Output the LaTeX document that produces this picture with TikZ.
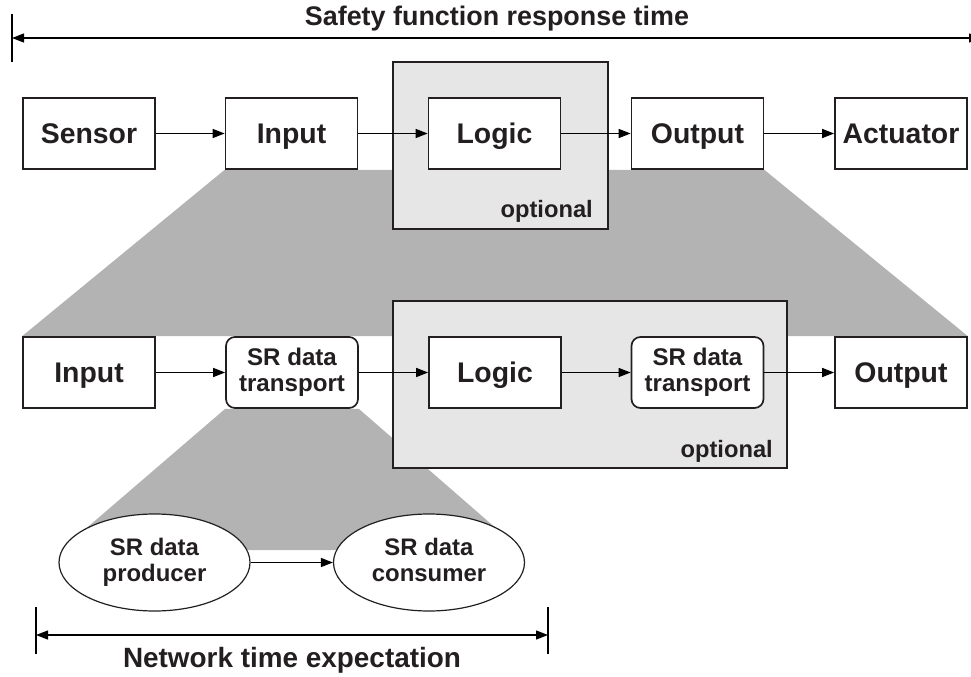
\documentclass[tikz,border=0pt]{standalone}
\usepackage{fontspec}
\setmainfont{Liberation Sans}
\usetikzlibrary{arrows.meta,shapes.geometric,backgrounds}
\definecolor{ink}{HTML}{231F20}
\definecolor{fangray}{HTML}{B3B3B3}
\definecolor{optfill}{HTML}{E6E6E6}
\begin{document}
\begin{tikzpicture}[x=1bp,y=-1bp,
  blk/.style={draw=ink, line width=1.7bp, fill=white, minimum width=132bp,
    minimum height=71bp, inner sep=0pt, text=ink, text height=20.5bp, text depth=0pt,
    font=\bfseries\fontsize{28.5}{30}\selectfont},
  srbox/.style={draw=ink, line width=1.7bp, fill=white, minimum width=132bp,
    minimum height=71bp, inner sep=0pt, text=ink, rounded corners=9bp, align=center,
    text depth=5bp, font=\bfseries\fontsize{24.2}{26}\selectfont},
  oval/.style={ellipse, draw=ink, line width=1.2bp, fill=white,
    minimum width=191bp, minimum height=97bp, inner sep=0pt, align=center,
    text depth=5bp, text=ink, font=\bfseries\fontsize{24}{26}\selectfont},
  optbox/.style={draw=ink, line width=1.7bp, fill=optfill, inner sep=0pt},
  optlabel/.style={text=ink, font=\bfseries\fontsize{23.8}{25}\selectfont,
    inner sep=0pt, anchor=base east},
  flow/.style={-{Triangle[length=12bp,width=9bp]}, line width=1.3bp},
  dimline/.style={{Triangle[length=12bp,width=9bp]}-{Triangle[length=12bp,width=9bp]},
    line width=1.3bp},
  bar/.style={line width=2.2bp},
  heading/.style={text=ink, font=\bfseries\fontsize{27}{30}\selectfont,
    inner sep=0pt, anchor=base}
]
\useasboundingbox (0,0) rectangle (971,677);

% overall response time
\node[heading] (rtitle) at (497,26) {Safety function response time};
\coordinate (tbarA) at (12,14);
\coordinate (tbarB) at (12,62);
\coordinate (tl) at (12,38);
\coordinate (tr) at (981,38);
\draw[bar] (tbarA) -- (tbarB);
\draw[dimline] (tl) -- (tr);

% safety function chain
\node[blk] (sensor) at (89,133.5) {Sensor};
\node[blk] (in1) at (291.5,133.5) {Input};
\node[blk] (log1) at (494.5,133.5) {Logic};
\node[blk] (out1) at (697.5,133.5) {Output};
\node[blk] (act) at (901,133.5) {Actuator};

% expanded chain
\node[blk] (in2) at (89,372.5) {Input};
\node[srbox] (sr1) at (292,372.5) {SR data\\transport};
\node[blk] (log2) at (495,372.5) {Logic};
\node[srbox] (sr2) at (697.5,372.5) {SR data\\transport};
\node[blk] (out2) at (901,372.5) {Output};

% network level
\node[oval] (prod) at (154.5,562.5) {SR data\\producer};
\node[oval] (cons) at (429,562.5) {SR data\\consumer};

% projections and optional logic frames
\coordinate (fanL) at (61,550);
\coordinate (fanR) at (521,550);
\begin{scope}[on background layer]
  \fill[fangray] (in1.south west) -- (out1.south east) -- (out2.north east)
    -- (in2.north west) -- cycle;
  \fill[fangray] (sr1.south west) -- (sr1.south east) -- (fanR) -- (fanL) -- cycle;
  \node[optbox, minimum width=215bp, minimum height=167bp] (opt1) at (500.5,145.5) {};
  \node[optbox, minimum width=394bp, minimum height=167bp] (opt2) at (590,384.5) {};
\end{scope}
\node[optlabel] (opt1lbl) at (593,217) {optional};
\node[optlabel] (opt2lbl) at (773,457) {optional};

% data flow
\draw[flow] (sensor) -- (in1);
\draw[flow] (in1) -- (log1);
\draw[flow] (log1) -- (out1);
\draw[flow] (out1) -- (act);
\draw[flow] (in2) -- (sr1);
\draw[flow] (sr1) -- (log2);
\draw[flow] (log2) -- (sr2);
\draw[flow] (sr2) -- (out2);
\draw[flow] (prod) -- (cons);

% network time span
\coordinate (bbarA) at (36,607);
\coordinate (bbarB) at (36,654);
\coordinate (bbarC) at (548,607);
\coordinate (bbarD) at (548,654);
\coordinate (bl) at (36,635);
\coordinate (br) at (548,635);
\draw[bar] (bbarA) -- (bbarB);
\draw[bar] (bbarC) -- (bbarD);
\draw[dimline] (bl) -- (br);
\node[heading, font=\bfseries\fontsize{28}{30}\selectfont] (ntitle) at (292,667) {Network time expectation};
\end{tikzpicture}
\end{document}
